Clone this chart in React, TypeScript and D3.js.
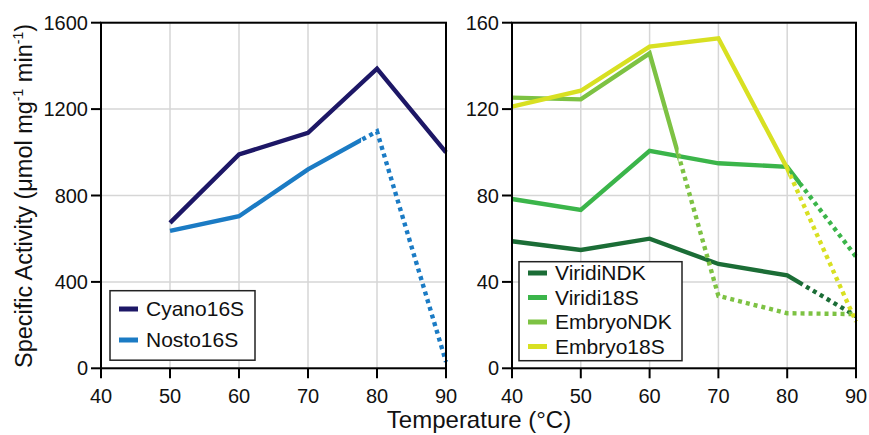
import React from 'react';
import * as d3 from 'd3';

// left panel
const tempsLeft = [50, 60, 70, 80, 90];
const cyano16S = [673, 990, 1090, 1387, 1000];
const nosto16S = [636, 704, 921, 1097, 30];
const yTicksLeft = [0, 400, 800, 1200, 1600];

// right panel
const tempsRight = [40, 50, 60, 70, 80, 90];
const viridiNDK = [58.8, 54.8, 60, 48.3, 43, 24.2];
const viridi18S = [78.4, 73.3, 100.7, 94.9, 93.3, 51.7];
const embryoNDK = [125.3, 124.5, 145.8, 33.5, 25.5, 25.1];
const embryo18S = [121.1, 128.5, 148.9, 152.8, 92.6, 21.6];
const yTicksRight = [0, 40, 80, 120, 160];

const xTicks = [40, 50, 60, 70, 80, 90];

type Series = { name: string; temps: number[]; values: number[]; color: string; dotFrom: number };

const leftSeries: Series[] = [
  { name: 'Cyano16S', temps: tempsLeft, values: cyano16S, color: '#1d1766', dotFrom: 999 },
  { name: 'Nosto16S', temps: tempsLeft, values: nosto16S, color: '#1b7bc4', dotFrom: 77.7 },
];

const rightSeries: Series[] = [
  { name: 'ViridiNDK', temps: tempsRight, values: viridiNDK, color: '#1b6d36', dotFrom: 82 },
  { name: 'Viridi18S', temps: tempsRight, values: viridi18S, color: '#3bb54a', dotFrom: 82 },
  { name: 'EmbryoNDK', temps: tempsRight, values: embryoNDK, color: '#7dc243', dotFrom: 64.2 },
  { name: 'Embryo18S', temps: tempsRight, values: embryo18S, color: '#d8e022', dotFrom: 80.3 },
];

const FONT = 'Liberation Sans, Arial, Helvetica, sans-serif';
const top = 22.7, bottom = 368.3;

function Panel({ id, x0, x1, yMax, yTicks, series, legend }: {
  id: string; x0: number; x1: number; yMax: number; yTicks: number[]; series: Series[];
  legend: { x: number; y: number; w: number; h: number; rowY: number; rowH: number; font: number };
}) {
  const x = d3.scaleLinear().domain([40, 90]).range([x0, x1]);
  const y = d3.scaleLinear().domain([0, yMax]).range([bottom, top]);
  return (
    <g>
      {xTicks.map(t => (
        <line key={'gx' + t} x1={x(t)} x2={x(t)} y1={top} y2={bottom} stroke="#d6d6d6" strokeWidth={1.5} />
      ))}
      {yTicks.map(t => (
        <line key={'gy' + t} x1={x0} x2={x1} y1={y(t)} y2={y(t)} stroke="#d6d6d6" strokeWidth={1.5} />
      ))}
      {series.map((s, si) => {
        const gen = d3.line<number>().x((_, i) => x(s.temps[i])).y(v => y(v));
        const cut = x(s.dotFrom);
        return (
          <g key={s.name}>
            <clipPath id={`${id}-s${si}`}><rect x={0} y={0} width={Math.max(0, cut)} height={435} /></clipPath>
            <clipPath id={`${id}-d${si}`}><rect x={cut} y={0} width={900} height={435} /></clipPath>
            <path d={gen(s.values) || ''} fill="none" stroke={s.color} strokeWidth={4.4} strokeLinejoin="miter"
              clipPath={`url(#${id}-s${si})`} />
            <path d={gen(s.values) || ''} fill="none" stroke={s.color} strokeWidth={4.4} strokeDasharray="4,4"
              clipPath={`url(#${id}-d${si})`} />
          </g>
        );
      })}
      <rect x={x0} y={top} width={x1 - x0} height={bottom - top} fill="none" stroke="#000" strokeWidth={2} />
      {xTicks.map(t => (
        <g key={'tx' + t}>
          <line x1={x(t)} x2={x(t)} y1={bottom} y2={bottom + 10} stroke="#000" strokeWidth={2} />
          <text x={x(t)} y={bottom + 35} textAnchor="middle" fontSize={20} fontFamily={FONT} fill="#111">{t}</text>
        </g>
      ))}
      {yTicks.map(t => (
        <g key={'ty' + t}>
          <line x1={x0 - 10} x2={x0} y1={y(t)} y2={y(t)} stroke="#000" strokeWidth={2} />
          <text x={x0 - 13} y={y(t) + 7} textAnchor="end" fontSize={20} fontFamily={FONT} fill="#111">{t}</text>
        </g>
      ))}
      <rect x={legend.x} y={legend.y} width={legend.w} height={legend.h} fill="#fff" stroke="#222" strokeWidth={1.5} />
      {series.map((s, i) => (
        <g key={'lg' + s.name}>
          <line x1={legend.x + 9} x2={legend.x + 28} y1={legend.rowY + i * legend.rowH - 7}
            y2={legend.rowY + i * legend.rowH - 7} stroke={s.color} strokeWidth={5} />
          <text x={legend.x + 36} y={legend.rowY + i * legend.rowH} fontSize={legend.font} fontFamily={FONT} fill="#111">{s.name}</text>
        </g>
      ))}
    </g>
  );
}

export default function App() {
  return (
    <div style={{ position: 'fixed', left: 0, top: 0 }}>
      <svg width={869} height={435} style={{ display: 'block', background: '#fff' }}>
        <Panel id="L" x0={101} x1={446} yMax={1600} yTicks={yTicksLeft} series={leftSeries}
          legend={{ x: 110, y: 290.7, w: 145, h: 69.5, rowY: 316, rowH: 31, font: 21 }} />
        <Panel id="R" x0={512} x1={856} yMax={160} yTicks={yTicksRight} series={rightSeries}
          legend={{ x: 519, y: 261.7, w: 163, h: 99, rowY: 280, rowH: 24.5, font: 21 }} />
        <text transform="translate(32,196) rotate(-90)" textAnchor="middle" fontSize={23.5} fontFamily={FONT} fill="#111">
          Specific Activity (μmol mg<tspan fontSize={14} dy={-9}>-1</tspan><tspan dy={9}> min</tspan>
          <tspan fontSize={14} dy={-9}>-1</tspan><tspan dy={9}>)</tspan>
        </text>
        <text x={479} y={428} textAnchor="middle" fontSize={24} fontFamily={FONT} fill="#111">Temperature (°C)</text>
      </svg>
    </div>
  );
}
